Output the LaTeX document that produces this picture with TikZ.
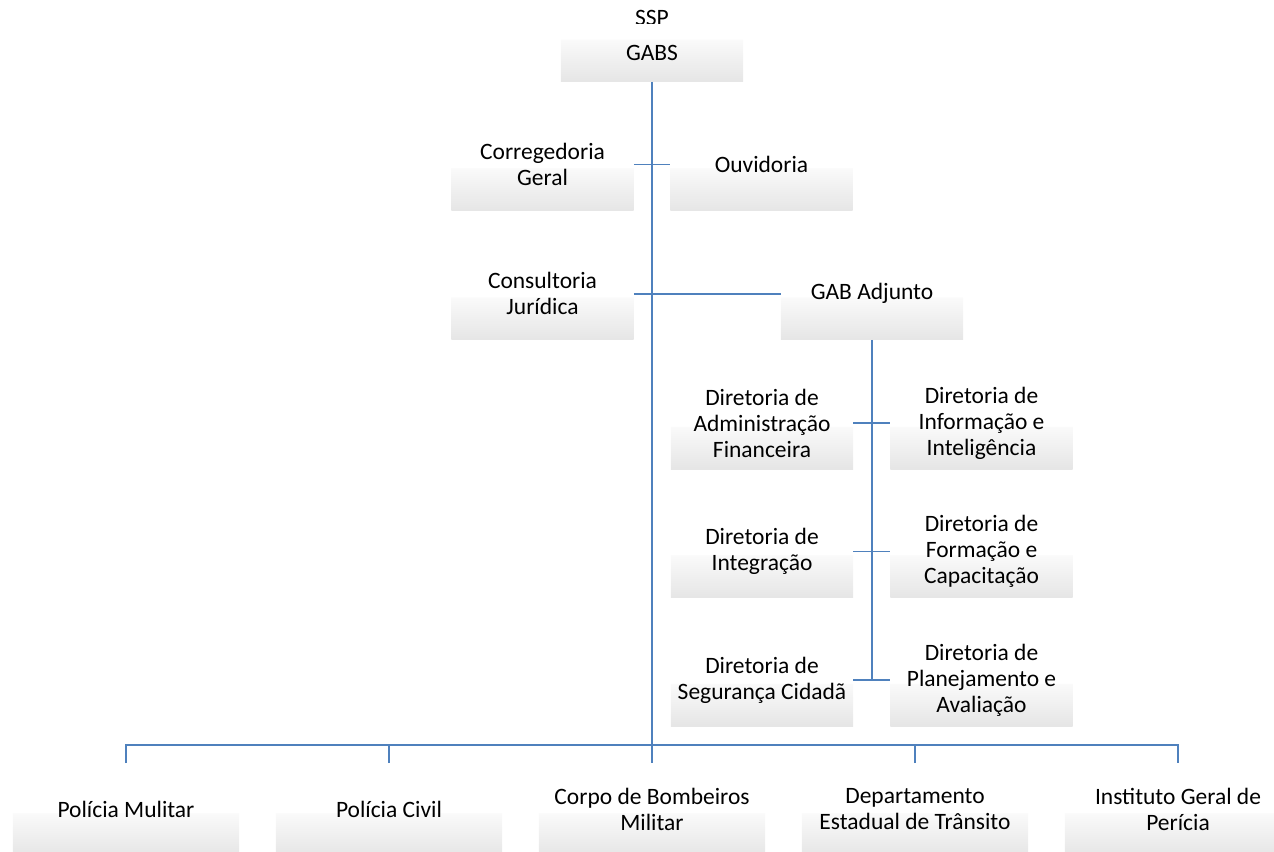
\documentclass[tikz,border=0pt]{standalone}
\usepackage{fontspec}
\setmainfont{Carlito}
\usetikzlibrary{positioning}
\definecolor{linkblue}{RGB}{79,129,189}
\pgfdeclareverticalshading{unitfade}{100bp}{color(0bp)=(black!10); color(25bp)=(black!10);
  color(48bp)=(black!2); color(48.5bp)=(white); color(100bp)=(white)}
\pgfdeclareverticalshading{headfade}{100bp}{color(0bp)=(black!10); color(25bp)=(black!10);
  color(62bp)=(black!2); color(62.5bp)=(white); color(100bp)=(white)}
\tikzset{
  unit/.style={shade, shading=unitfade, minimum width=4.55cm, minimum height=2.3cm,
               align=center, inner sep=0pt},
  bigunit/.style={unit, minimum width=5.65cm},
  headunit/.style={unit, shading=headfade, minimum height=1.425cm},
  link/.style={draw=linkblue, line width=1.3pt}
}

\begin{document}
\begin{tikzpicture}[x=0.025cm, y=-0.025cm, font=\fontsize{16.7}{18.5}\selectfont]
    \useasboundingbox (0,0) rectangle (1274,851);
    \clip (0,0) rectangle (1274,851);
    % top
    \node (ssp) at (652,18) {SSP};
    \node[headunit] (gabs) at (652,53) {GABS};
    % staff units
    \node[unit] (cor) at (542.5,164.5) {Corregedoria\\Geral};
    \node[unit] (ouv) at (761.5,164.5) {Ouvidoria};
    \node[unit] (con) at (542.5,293.6) {Consultoria\\Jurídica};
    \node[unit] (adj) at (872,293.6) {GAB Adjunto};
    % directorates
    \node[unit] (adm) at (762,423) {Diretoria de\\Administração\\Financeira};
    \node[unit] (inf) at (981.5,423) {Diretoria de\\Informação e\\Inteligência};
    \node[unit] (int) at (762,551.5) {Diretoria de\\Integração};
    \node[unit] (frm) at (981.5,551.5) {Diretoria de\\Formação e\\Capacitação};
    \node[unit] (seg) at (762,680) {Diretoria de\\Segurança Cidadã};
    \node[unit] (pla) at (981.5,680) {Diretoria de\\Planejamento e\\Avaliação};
    % bottom row
    \node[bigunit] (pm)  at (126,809.5)  {Polícia Mulitar};
    \node[bigunit] (pc)  at (389,809.5)  {Polícia Civil};
    \node[bigunit] (cbm) at (652,809.5)  {Corpo de Bombeiros\\Militar};
    \node[bigunit] (det) at (915,809.5)  {Departamento\\Estadual de Trânsito};
    \node[bigunit] (igp) at (1178,809.5) {Instituto Geral de\\Perícia};
    \coordinate (bus) at (652,745);
    % connectors
    \draw[link] (gabs.south) -- (cbm.north);
    \draw[link] (cor.east) -- (ouv.west);
    \draw[link] (con.east) -- (adj.west);
    \draw[link] (adj.south) -- (adj.south |- seg.east);
    \foreach \l/\r in {adm/inf, int/frm, seg/pla}
        \draw[link] (\l.east) -- (\r.west);
    \draw[link] (pm.north) |- (bus) -| (igp.north);
    \foreach \n in {pc, det}
        \draw[link] (\n.north) -- (\n.north |- bus);
\end{tikzpicture}
\end{document}
